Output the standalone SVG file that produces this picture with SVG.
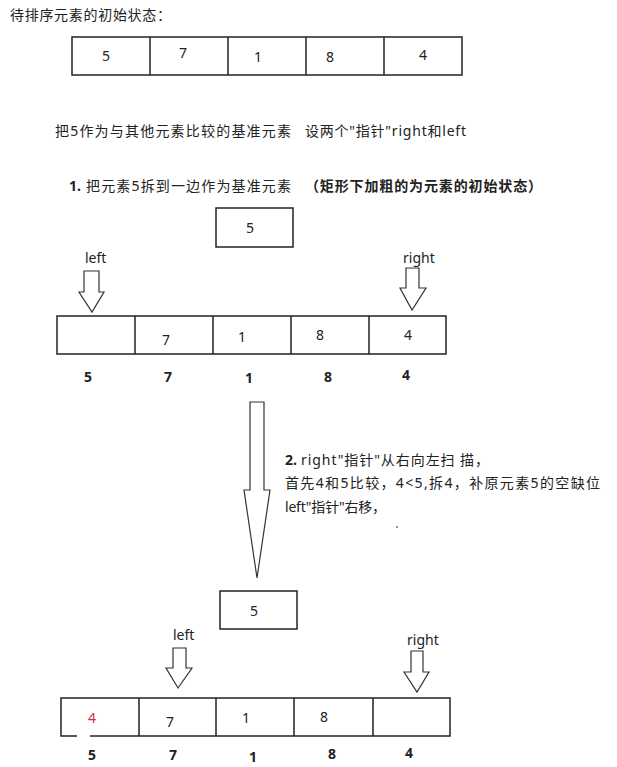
<svg xmlns="http://www.w3.org/2000/svg" width="617" height="767" viewBox="0 0 617 767">
<style>
  text { font-family: "Noto Sans", "Noto Sans CJK SC", sans-serif; fill: #222; }
  .t { font-size: 14px; }
  .d { font-size: 14px; text-anchor: middle; }
  .b { font-size: 14px; font-weight: bold; text-anchor: middle; }
  .bx { fill: #fff; stroke: #222; stroke-width: 1.5; }
  .ln { stroke: #222; stroke-width: 1.5; fill: none; }
  .ar { fill: #fff; stroke: #333; stroke-width: 1.2; stroke-linejoin: miter; }
  .red { fill: #cc3344; }
</style>
<rect width="617" height="767" fill="#fff"/>

<g id="texts">
  <text class="t" x="10" y="20" textLength="161">待排序元素的初始状态：</text>
  <text class="t" x="55" y="136" textLength="236">把5作为与其他元素比较的基准元素</text>
  <text class="t" x="305" y="136" textLength="161">设两个"指针"right和left</text>
  <text class="t" x="69" y="191"><tspan font-weight="bold">1.</tspan><tspan x="86" textLength="205">把元素5拆到一边作为基准元素</tspan></text>
  <text class="t" x="305" y="191" font-weight="bold" textLength="237">（矩形下加粗的为元素的初始状态）</text>
  <text class="t" x="285" y="465"><tspan font-weight="bold">2.</tspan><tspan x="301" textLength="188">right"指针"从右向左扫 描，</tspan></text>
  <text class="t" x="285" y="488" textLength="315">首先4和5比较，4&lt;5,拆4，补原元素5的空缺位</text>
  <text class="t" x="285" y="512" textLength="101">left"指针"右移，</text>
  <circle cx="397" cy="527" r="0.9" fill="#666"/>
</g>

<g id="row-initial">
  <rect class="bx" x="72" y="37" width="390" height="38"/>
  <path class="ln" d="M150,37V75M228,37V75M306,37V75M384,37V75"/>
  <text class="d" x="106" y="61">5</text>
  <text class="d" x="183" y="58">7</text>
  <text class="d" x="258" y="62">1</text>
  <text class="d" x="330" y="62">8</text>
  <text class="d" x="423" y="60">4</text>
</g>

<g id="pivot-1">
  <rect class="bx" x="216" y="208" width="77" height="39"/>
  <text class="d" x="250" y="233">5</text>
</g>

<g id="row-step1">
  <rect class="bx" x="57" y="316" width="389" height="38"/>
  <path class="ln" d="M135,316V354M213,316V354M291,316V354M369,316V354"/>
  <text class="d" x="166" y="345">7</text>
  <text class="d" x="242" y="342">1</text>
  <text class="d" x="320" y="340">8</text>
  <text class="d" x="408" y="340">4</text>
  <text class="b" x="88" y="382">5</text>
  <text class="b" x="168" y="382">7</text>
  <text class="b" x="249" y="383">1</text>
  <text class="b" x="328" y="382">8</text>
  <text class="b" x="406" y="380">4</text>
</g>

<g id="label-left-1"><text class="t" x="85" y="263">left</text></g>
<g id="label-right-1"><text class="t" x="403" y="263">right</text></g>

<g id="pivot-2">
  <rect class="bx" x="220" y="591" width="77" height="38"/>
  <text class="d" x="254" y="616">5</text>
</g>

<g id="row-step2">
  <rect class="bx" x="61" y="698" width="389" height="38"/>
  <path class="ln" d="M139,698V736M216,698V736M294,698V736M373,698V736"/>
  <rect x="77" y="734" width="13" height="4" fill="#fff"/>
  <text class="d red" x="92" y="723">4</text>
  <text class="d" x="170" y="727">7</text>
  <text class="d" x="246" y="723">1</text>
  <text class="d" x="324" y="722">8</text>
  <text class="b" x="92" y="760">5</text>
  <text class="b" x="173" y="760">7</text>
  <text class="b" x="253" y="762">1</text>
  <text class="b" x="332" y="759">8</text>
  <text class="b" x="409" y="758">4</text>
</g>

<g id="label-left-2"><text class="t" x="173" y="640">left</text></g>
<g id="label-right-2"><text class="t" x="407" y="645">right</text></g>

<g id="connectors">
  <path class="ar" d="M84,271H99V292H104L92,312L79,292H84Z"/>
  <path class="ar" d="M406,268H419V288H426L412,310L400,288H406Z"/>
  <path class="ar" d="M250,402H264V490H270L257,578L244,490H250Z"/>
  <path class="ar" d="M173,648H186V668H192L178,688L166,668H173Z"/>
  <path class="ar" d="M411,651H423V672H429L417,692L404,672H411Z"/>
</g>
</svg>
